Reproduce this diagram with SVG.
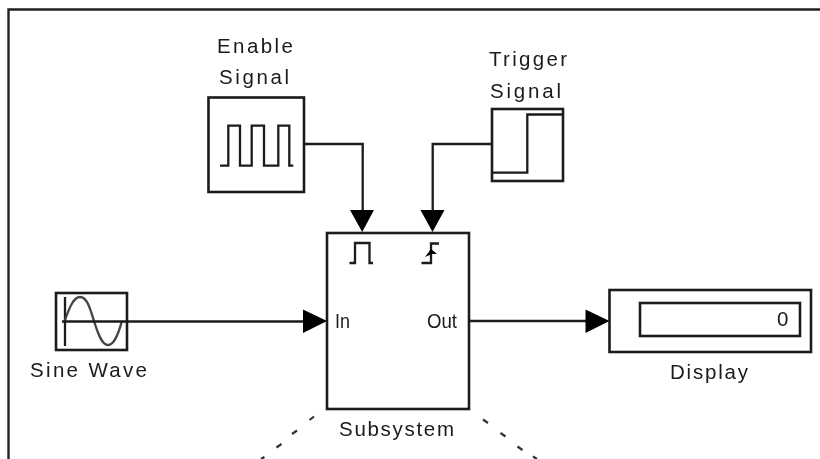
<svg xmlns="http://www.w3.org/2000/svg" width="820" height="459" viewBox="0 0 820 459">
<style>
.b{fill:#fff;stroke:#1a1a1a;stroke-width:2.600}
.l{fill:none;stroke:#1a1a1a;stroke-width:2.300}
.a{fill:#000;stroke:none}
.d{fill:none;stroke:#333;stroke-width:2.200}
text{font-family:"Liberation Sans",Arial,sans-serif;font-size:20.500px;fill:#1a1a1a}
</style>
<defs><filter id="s" x="-2%" y="-2%" width="104%" height="104%"><feGaussianBlur stdDeviation="0.6"/></filter></defs>
<rect width="820" height="459" fill="#fff"/>
<g filter="url(#s)">
<path id="frame" d="M8.500 459V9.500H820" fill="none" stroke="#222" stroke-width="2.400"/>
<g id="enable"><rect class="b" x="208.500" y="97.500" width="95.500" height="94.500"/>
<path class="l" d="M220 165.700H228.300V125.700H240V165.700H251.700V125.700H264V165.700H278.300V125.700H289.300V165.700H293.300"/>
<text x="217" y="53" textLength="76">Enable</text><text x="219" y="84" textLength="70">Signal</text></g>
<g id="trigger"><rect class="b" x="492" y="109" width="71" height="72"/>
<path class="l" d="M492 172.700H527.300V114.500H563"/>
<text x="489" y="66" textLength="78">Trigger</text><text x="490" y="98" textLength="71">Signal</text></g>
<g id="subsystem"><rect class="b" x="327" y="233" width="142" height="176"/>
<path class="l" d="M349.500 263H355V243H369.500V263H373"/>
<path class="l" d="M421.500 263H431V243.500H439"/>
<path class="a" d="M425 257L431 249L437 254L432 254Z"/>
<text x="335" y="328" textLength="15" lengthAdjust="spacingAndGlyphs">In</text><text x="427" y="328" textLength="30" lengthAdjust="spacingAndGlyphs">Out</text>
<text x="339" y="436" textLength="115">Subsystem</text></g>
<g id="sine"><rect class="b" x="56" y="293" width="71" height="57"/>
<path class="l" d="M65 297V346"/>
<path class="l" style="stroke:#444" d="M65 320C70 306 74 297 80 297C87 297 90 308 94 321C98 334 102 345 108 345C114 345 118 335 122 321"/>
<text x="30" y="377" textLength="117">Sine Wave</text></g>
<g id="display"><rect class="b" x="609.500" y="290" width="201.500" height="62"/>
<rect class="b" x="640" y="303" width="160" height="33"/>
<text x="777" y="326">0</text>
<text x="670" y="379" textLength="78">Display</text></g>
<g id="connectors">
<path class="l" d="M304 144H362.700V212"/>
<path class="l" d="M492 144H432.700V212"/>
<path class="l" d="M62 321.500H305"/>
<path class="l" d="M469 321H588"/>
<path class="a" d="M350 210H374L362.200 232Z"/>
<path class="a" d="M420.500 210H444.500L432.500 232Z"/>
<path class="a" d="M303 309.500L327 321L303 333Z"/>
<path class="a" d="M585.500 309.500L609.500 321L585.500 333Z"/>
<path class="d" d="M314 416.500L309.500 420M297 430.500L292 434M281.500 444L276.500 447.500M264.500 457L261 459"/>
<path class="d" d="M483 419.500L488 423M500.500 433L505.500 436.500M517.500 446.500L522.500 450M533 456.500L537 459"/>
</g>
</g>
</svg>
